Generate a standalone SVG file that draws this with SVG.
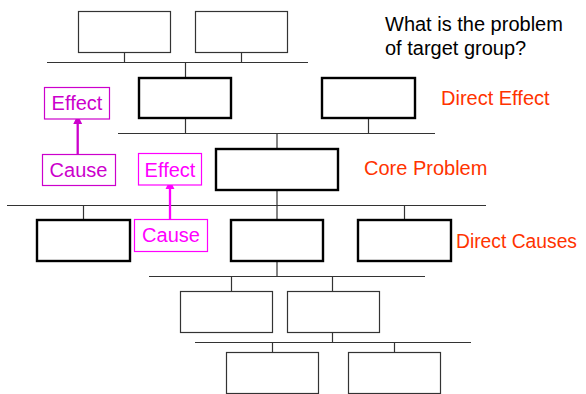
<svg xmlns="http://www.w3.org/2000/svg" width="586" height="394" viewBox="0 0 586 394">
  <defs>
    <style>
      .thin { fill: #fff; stroke: #333; stroke-width: 1.2; }
      .thick { fill: #fff; stroke: #000; stroke-width: 2.4; }
      .wire { fill: none; stroke: #333; stroke-width: 1.2; }
      .txt { font-family: "Liberation Sans", Arial, sans-serif; font-size: 20px; }
      .label { fill: #ff3300; }
      .q { fill: #000; }
      .m1 { fill: #cc00cc; }
      .m2 { fill: #ff00ff; }
      .mbox1 { fill: #fff; stroke: #cc00cc; stroke-width: 1.2; }
      .mbox2 { fill: #fff; stroke: #ff00ff; stroke-width: 1.2; }
    </style>
    <marker id="ah1" viewBox="0 0 10 10" refX="9" refY="5" markerWidth="4" markerHeight="4.5" orient="auto" markerUnits="strokeWidth">
      <path d="M0,0 L10,5 L0,10 z" fill="#cc00cc"/>
    </marker>
    <marker id="ah2" viewBox="0 0 10 10" refX="9" refY="5" markerWidth="4" markerHeight="4.5" orient="auto" markerUnits="strokeWidth">
      <path d="M0,0 L10,5 L0,10 z" fill="#ff00ff"/>
    </marker>
  </defs>

  <!-- tree connectors -->
  <g id="connectors">
    <path class="wire" d="M124.5,52 V62.5 M241.5,52 V62.5 M47,62.5 H308 M185.5,62.5 V78"/>
    <path class="wire" d="M185.5,118 V133.5 M368.5,118 V133.5 M118,133.5 H435 M277,133.5 V149"/>
    <path class="wire" d="M277,190 V205.5 M7,205.5 H486 M83.5,205.5 V220 M277,205.5 V220 M404.5,205.5 V220"/>
    <path class="wire" d="M277,261 V276.5 M149,276.5 H425 M231.5,276.5 V291 M332.5,276.5 V291"/>
    <path class="wire" d="M332.5,332 V342.5 M195,342.5 H471 M272.5,342.5 V352 M394.5,342.5 V352"/>
    <line x1="77.7" y1="154" x2="77.7" y2="116" stroke="#cc00cc" stroke-width="2.3" marker-end="url(#ah1)"/>
    <line x1="170" y1="219.5" x2="170" y2="181" stroke="#ff00ff" stroke-width="2.3" marker-end="url(#ah2)"/>
  </g>

  <!-- top row -->
  <g id="top-left"><rect class="thin" x="78.5" y="11.5" width="92" height="41"/></g>
  <g id="top-right"><rect class="thin" x="195.5" y="11.5" width="92" height="41"/></g>

  <!-- direct effects -->
  <g id="effect-left"><rect class="thick" x="139" y="78" width="92" height="40"/></g>
  <g id="effect-right"><rect class="thick" x="322" y="78" width="93" height="40"/></g>

  <!-- core problem -->
  <g id="core"><rect class="thick" x="216" y="149" width="122" height="41"/></g>

  <!-- direct causes -->
  <g id="cause-1"><rect class="thick" x="37" y="220" width="93" height="41"/></g>
  <g id="cause-2"><rect class="thick" x="231" y="220" width="92" height="41"/></g>
  <g id="cause-3"><rect class="thick" x="358" y="220" width="93" height="41"/></g>

  <!-- deeper causes -->
  <g id="sub-1"><rect class="thin" x="180.5" y="291.5" width="92" height="41"/></g>
  <g id="sub-2"><rect class="thin" x="287.5" y="291.5" width="92" height="41"/></g>
  <g id="root-1"><rect class="thin" x="226.5" y="352.5" width="92" height="41"/></g>
  <g id="root-2"><rect class="thin" x="348.5" y="352.5" width="92" height="41"/></g>

  <!-- cause/effect legend -->
  <g id="legend-effect-1">
    <rect class="mbox1" x="44.5" y="87.5" width="65" height="31.5"/>
    <text class="txt m1" x="77" y="110" text-anchor="middle">Effect</text>
  </g>
  <g id="legend-cause-1">
    <rect class="mbox1" x="42.5" y="154.5" width="73" height="31"/>
    <text class="txt m1" x="78.5" y="176.5" text-anchor="middle">Cause</text>
  </g>
  <g id="legend-effect-2">
    <rect class="mbox2" x="138.5" y="153.5" width="63" height="31.5"/>
    <text class="txt m2" x="170" y="176.5" text-anchor="middle">Effect</text>
  </g>
  <g id="legend-cause-2">
    <rect class="mbox2" x="134.5" y="219.5" width="73" height="32"/>
    <text class="txt m2" x="171" y="241.5" text-anchor="middle">Cause</text>
  </g>

  <!-- level labels -->
  <g id="labels">
    <text class="txt q" x="385" y="30.5">What is the problem</text>
    <text class="txt q" x="385" y="54.5">of target group?</text>
    <text class="txt label" x="441" y="105">Direct Effect</text>
    <text class="txt label" x="364" y="175">Core Problem</text>
    <text class="txt label" x="456" y="248.3" textLength="121" lengthAdjust="spacingAndGlyphs">Direct Causes</text>
  </g>
</svg>
